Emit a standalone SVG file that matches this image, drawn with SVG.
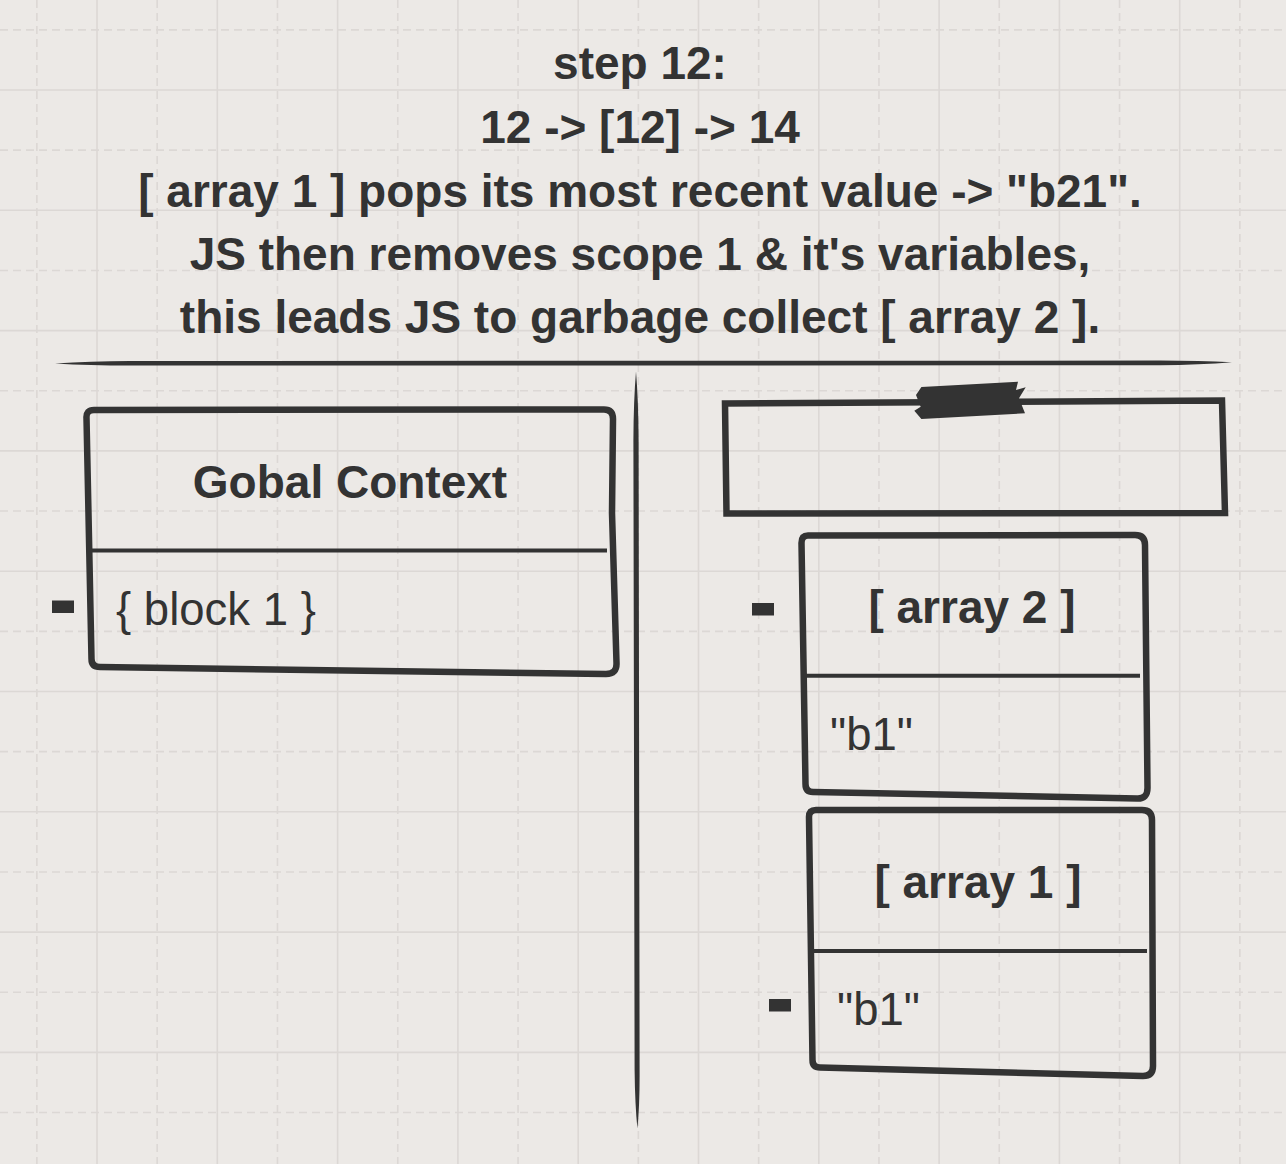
<svg xmlns="http://www.w3.org/2000/svg" width="1286" height="1164" viewBox="0 0 1286 1164">
  <defs>
    <style>
      .bg { fill: #ece9e6; }
      .grid { fill: none; stroke: #dcd8d5; stroke-width: 1.6; }
      .grid-dash { fill: none; stroke: #dcd8d5; stroke-width: 1.6; stroke-dasharray: 8 5; }
      .box { fill: none; stroke: #333333; stroke-width: 6.5; stroke-linejoin: round; stroke-linecap: round; }
      .sq { fill: none; stroke: #333333; stroke-width: 6.5; stroke-linejoin: miter; }
      .div { fill: none; stroke: #333333; stroke-width: 4; }
      .ink { fill: #333333; }
      .title { font-family: "Liberation Sans", Arial, Helvetica, sans-serif; font-weight: bold; font-size: 46px; fill: #333333; text-anchor: middle; }
      .head { font-family: "Liberation Sans", Arial, Helvetica, sans-serif; font-weight: bold; font-size: 46px; fill: #333333; text-anchor: middle; }
      .item { font-family: "Liberation Sans", Arial, Helvetica, sans-serif; font-size: 45.5px; fill: #333333; }
    </style>
  </defs>

  <rect class="bg" x="0" y="0" width="1286" height="1164"/>

  <g id="grid">
    <path class="grid-dash" d="M36.85,0V1164 M157.15,0V1164 M277.45,0V1164 M397.75,0V1164 M518.05,0V1164 M638.35,0V1164 M758.65,0V1164 M878.95,0V1164 M999.25,0V1164 M1119.55,0V1164 M1239.85,0V1164
      M0,29.85H1286 M0,150.15H1286 M0,270.45H1286 M0,390.75H1286 M0,511.05H1286 M0,631.35H1286 M0,751.65H1286 M0,871.95H1286 M0,992.25H1286 M0,1112.55H1286"/>
    <path class="grid" d="M97,0V1164 M217.3,0V1164 M337.6,0V1164 M457.9,0V1164 M578.2,0V1164 M698.5,0V1164 M818.8,0V1164 M939.1,0V1164 M1059.4,0V1164 M1179.7,0V1164
      M0,90H1286 M0,210.3H1286 M0,330.6H1286 M0,450.9H1286 M0,571.2H1286 M0,691.5H1286 M0,811.8H1286 M0,932.1H1286 M0,1052.4H1286"/>
  </g>

  <g id="title">
    <text class="title" x="640" y="79">step 12:</text>
    <text class="title" x="640" y="143">12 -&gt; [12] -&gt; 14</text>
    <text class="title" x="640" y="207">[ array 1 ] pops its most recent value -&gt; "b21".</text>
    <text class="title" x="640" y="270">JS then removes scope 1 &amp; it's variables,</text>
    <text class="title" x="640" y="333">this leads JS to garbage collect [ array 2 ].</text>
  </g>

  <g id="dividers">
    <path class="ink" d="M55,363.6 Q90,361.4 130,361 L1160,360.6 Q1200,360.8 1232,362.3 Q1200,364.8 1160,365.3 L130,365.6 Q90,365.6 55,363.6 Z"/>
    <path class="ink" d="M636,371.5 Q633.6,400 633.4,440 L634.6,1070 Q635,1105 637.4,1128.5 Q639.8,1105 639.6,1070 L638.6,440 Q638.4,400 636,371.5 Z"/>
  </g>

  <g id="connectors"></g>

  <g id="gobal-context">
    <path class="box" d="M94,410 L604,409.5 Q613,409.5 613,419 L612,513 L616.5,663 Q617,674 606,674 L100,667 Q91.5,667 91.5,659 L86.5,418 Q86,410 94,410 Z"/>
    <line class="div" x1="92" y1="550.5" x2="607" y2="550.5"/>
    <text class="head" x="350" y="498">Gobal Context</text>
    <rect class="ink" x="52" y="600.5" width="22" height="12.5"/>
    <text class="item" x="116" y="625">{ block 1 }</text>
  </g>

  <g id="heap-box">
    <path class="sq" d="M725,403.5 L1222,400.5 L1225,513 L726.5,513.5 Z"/>
    <path class="ink" d="M921.4,387 L1018,381.7 L1016,390 L1025.7,387.3 L1019,398.3 L1025,413.3 L921.4,419 L914.3,410.7 L920.7,406.7 L916,395 Z"/>
  </g>

  <g id="array-2">
    <path class="box" d="M808,535.5 L1135,535 Q1145,535 1145,545 L1147.5,788 Q1147.5,799 1137,798.5 L813,792 Q805.5,792 805.5,784 L801.5,543 Q801.5,535.5 808,535.5 Z"/>
    <line class="div" x1="806" y1="675.7" x2="1140" y2="675.7"/>
    <text class="head" x="972" y="623">[ array 2 ]</text>
    <rect class="ink" x="752" y="603" width="22" height="12.5"/>
    <text class="item" x="830" y="750">"b1"</text>
  </g>

  <g id="array-1">
    <path class="box" d="M816,810 L1142,810 Q1152,810 1152,820 L1153,1066 Q1153,1076 1143,1076 L820,1067.5 Q812.5,1067.5 812.5,1060 L809,817 Q809,810 816,810 Z"/>
    <line class="div" x1="814" y1="951" x2="1147" y2="951"/>
    <text class="head" x="978" y="898">[ array 1 ]</text>
    <rect class="ink" x="769" y="999" width="22" height="12.5"/>
    <text class="item" x="837" y="1025">"b1"</text>
  </g>
</svg>
